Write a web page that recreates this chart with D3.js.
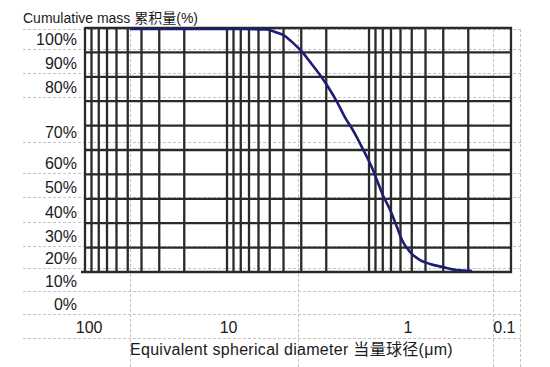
<!DOCTYPE html>
<html>
<head>
<meta charset="utf-8">
<script src="https://cdn.jsdelivr.net/npm/d3@7/dist/d3.min.js"></script>
<style>
  html, body { margin: 0; padding: 0; background: #fff; }
  svg { display: block; }
  text { font-family: "Liberation Sans", Arial, "Noto Sans CJK SC", sans-serif; fill: #1a1a1a; }
</style>
</head>
<body>
<svg id="chart" width="550" height="367"></svg>
<script>
// ---- data ----
const diameter   = [48, 30, 20, 12, 8, 5.2, 4.6, 4.0, 3.43, 2.96, 2.60, 2.21, 1.94, 1.68, 1.48, 1.30, 1.22, 1.07, 0.95, 0.88, 0.80, 0.71, 0.635, 0.586, 0.514, 0.437, 0.372, 0.301, 0.24, 0.188];
const cumulative = [99.6, 99.6, 99.6, 99.6, 99.6, 99.4, 98.4, 97.1, 93.9, 90.2, 86.1, 80.7, 75.8, 69.7, 63.5, 58.2, 55.3, 48.8, 42.6, 37.7, 31.6, 25.4, 18.4, 13.1, 8.2, 4.9, 3.3, 2.0, 0.8, 0.4];
const yTickLabels = ["100%", "90%", "80%", "70%", "60%", "50%", "40%", "30%", "20%", "10%", "0%"];
const xTickLabels = ["100", "10", "1", "0.1"];
const titleY = "Cumulative mass 累积量(%)";
const titleX = "Equivalent spherical diameter 当量球径(μm)";

// ---- layout (sheet cells around the pasted graph) ----
const rowEdges = [29, 49, 73, 97, 142, 173, 197, 222, 246, 268, 291, 314, 338];
const colEdges = [130, 298, 493, 520];
const xLabelRight = [102, 237, 412, 515];

const svg = d3.select("#chart");

// scales of the graph paper
const x = d3.scaleLog().domain([100, 0.1]).range([85, 511]);
const y = d3.scaleLinear().domain([0, 100]).range([272, 28]);

// dashed sheet gridlines
const dash = svg.append("g").attr("stroke", "#c4c4c4").attr("stroke-width", 1).attr("stroke-dasharray", "3,2");
dash.selectAll("line.h").data(rowEdges).join("line")
  .attr("x1", 23).attr("x2", 522).attr("y1", d => d + 0.5).attr("y2", d => d + 0.5);
dash.selectAll("line.v").data(colEdges).join("line")
  .attr("x1", d => d + 0.5).attr("x2", d => d + 0.5).attr("y1", 29).attr("y2", 367);

// thick graph-paper grid
const grid = svg.append("g").attr("stroke", "#2a2a2a").attr("stroke-width", 2.3);
grid.selectAll("line.gx").data(x.ticks()).join("line")
  .attr("x1", d => x(d)).attr("x2", d => x(d)).attr("y1", y(100) - 1).attr("y2", y(0) + 1);
grid.selectAll("line.gy").data(y.ticks(10)).join("line")
  .attr("x1", d => d === 0 ? x(100) - 4 : x(100)).attr("x2", x(0.1) + 1)
  .attr("y1", d => y(d)).attr("y2", d => y(d));

// curve
const pts = diameter.map((d, i) => [d, cumulative[i]]);
svg.append("path")
  .datum(pts)
  .attr("fill", "none")
  .attr("stroke", "#1d1d72")
  .attr("stroke-width", 2.6)
  .attr("stroke-linejoin", "round")
  .attr("d", d3.line().x(d => x(d[0])).y(d => y(d[1])).curve(d3.curveMonotoneX));

// y tick labels in sheet rows
const rowScale = d3.scaleOrdinal().domain(yTickLabels).range(yTickLabels.map((_, i) => rowEdges[i + 1] - 5));
const yAxis = svg.append("g").attr("transform", "translate(77,0)")
  .call(d3.axisLeft(rowScale).tickSize(0).tickPadding(0));
yAxis.select(".domain").remove();
yAxis.selectAll("text").attr("dy", null).attr("x", 0)
  .style("font-family", "'Liberation Sans', Arial, sans-serif")
  .style("font-size", "16px").attr("fill", "#1a1a1a");

// x tick labels
const xLabScale = d3.scaleOrdinal().domain(xTickLabels).range(xLabelRight);
const xAxis = svg.append("g").attr("transform", `translate(0,${rowEdges[rowEdges.length - 1] - 5})`)
  .call(d3.axisBottom(xLabScale).tickSize(0).tickPadding(0));
xAxis.select(".domain").remove();
xAxis.selectAll("text").attr("dy", null).attr("y", 0).attr("text-anchor", "end")
  .style("font-family", "'Liberation Sans', Arial, sans-serif")
  .style("font-size", "16px").attr("fill", "#1a1a1a");

// titles
svg.append("text").attr("x", 23).attr("y", 23).style("font-size", "14px").text(titleY);
svg.append("text").attr("x", 130).attr("y", 355).style("font-size", "16px")
  .style("letter-spacing", "0.3px").text(titleX);
</script>
</body>
</html>
